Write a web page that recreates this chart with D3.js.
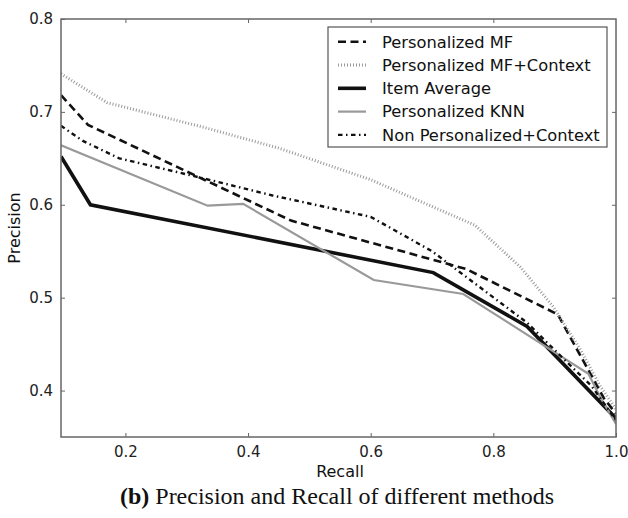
<!DOCTYPE html>
<html>
<head>
<meta charset="utf-8">
<script src="https://cdn.jsdelivr.net/npm/d3@7"></script>
<style>
  body { margin: 0; background: #fff; }
  svg text { font-family: "DejaVu Sans", sans-serif; }
</style>
</head>
<body>
<div id="chart"></div>
<script>
  // series values: [recall, precision]
  var personalizedMF = [[0.095, 0.718], [0.139, 0.686], [0.47, 0.583], [0.755, 0.531], [0.905, 0.482], [0.98, 0.392], [1.0, 0.375]];
  var personalizedMFContext = [[0.095, 0.741], [0.17, 0.710], [0.33, 0.683], [0.45, 0.661], [0.6, 0.627], [0.77, 0.578], [0.844, 0.533], [0.898, 0.490], [0.942, 0.444], [0.974, 0.405], [1.0, 0.38]];
  var itemAverage = [[0.095, 0.652], [0.143, 0.600], [0.702, 0.527], [0.855, 0.469], [1.0, 0.370]];
  var personalizedKNN = [[0.095, 0.664], [0.334, 0.599], [0.392, 0.601], [0.605, 0.519], [0.751, 0.504], [0.955, 0.418], [0.975, 0.392], [1.0, 0.364]];
  var nonPersonalizedContext = [[0.095, 0.685], [0.13, 0.669], [0.19, 0.650], [0.33, 0.628], [0.44, 0.610], [0.6, 0.587], [0.70, 0.550], [0.855, 0.473], [0.91, 0.437], [0.96, 0.405], [1.0, 0.368]];

  var seriesNames = ['Personalized MF', 'Personalized MF+Context', 'Item Average', 'Personalized KNN', 'Non Personalized+Context'];
  var xTicks = [0.2, 0.4, 0.6, 0.8, 1.0];
  var yTicks = [0.4, 0.5, 0.6, 0.7, 0.8];

  var series = [
    {name: seriesNames[0], values: personalizedMF, color: '#111', width: 2.6, dash: '8,4.5'},
    {name: seriesNames[1], values: personalizedMFContext, color: '#9a9a9a', width: 3, dash: '1,2'},
    {name: seriesNames[2], values: itemAverage, color: '#111', width: 3.6, dash: null},
    {name: seriesNames[3], values: personalizedKNN, color: '#999', width: 2.2, dash: null},
    {name: seriesNames[4], values: nonPersonalizedContext, color: '#111', width: 2.4, dash: '4.5,3.5,1.5,3.5'}
  ];

  var w = 628, h = 518;
  var margin = {top: 19, right: 12, bottom: 81, left: 61};
  var width = w - margin.left - margin.right;
  var height = h - margin.top - margin.bottom;

  var svg = d3.select('#chart')
    .append('svg')
    .attr('width', w)
    .attr('height', h);

  var x = d3.scaleLinear().domain([0.095, 1.0]).range([0, width]);
  var y = d3.scaleLinear().domain([0.35, 0.8]).range([height, 0]);

  var g = svg.append('g')
    .attr('transform', 'translate(' + margin.left + ',' + margin.top + ')');

  g.append('clipPath').attr('id', 'plotclip')
    .append('rect').attr('width', width).attr('height', height);

  var line = d3.line()
    .x(function(d) { return x(d[0]); })
    .y(function(d) { return y(d[1]); });

  g.append('g').attr('clip-path', 'url(#plotclip)')
    .selectAll('path')
    .data(series)
    .enter()
    .append('path')
    .attr('d', function(d) { return line(d.values); })
    .attr('fill', 'none')
    .attr('stroke', function(d) { return d.color; })
    .attr('stroke-width', function(d) { return d.width; })
    .attr('stroke-dasharray', function(d) { return d.dash; })
    .attr('stroke-linejoin', 'miter');

  // axes, ticks pointing inward on all four sides
  function styleAxis(sel) {
    sel.select('.domain').remove();
    sel.selectAll('.tick line').attr('stroke', '#666').attr('stroke-width', 1);
    sel.selectAll('.tick text').attr('fill', '#222').style('font-size', '15px');
  }

  g.append('g')
    .attr('transform', 'translate(0,' + height + ')')
    .call(d3.axisBottom(x).tickValues(xTicks).tickFormat(d3.format('.1f')).tickSizeInner(-4).tickSizeOuter(0).tickPadding(9))
    .call(styleAxis);
  g.append('g')
    .call(d3.axisTop(x).tickValues(xTicks.slice(0, 4)).tickFormat('').tickSizeInner(-4).tickSizeOuter(0))
    .call(styleAxis);
  g.append('g')
    .call(d3.axisLeft(y).tickValues(yTicks).tickFormat(d3.format('.1f')).tickSizeInner(-4).tickSizeOuter(0).tickPadding(8))
    .call(styleAxis);
  g.append('g')
    .attr('transform', 'translate(' + width + ',0)')
    .call(d3.axisRight(y).tickValues(yTicks.slice(0, 4)).tickFormat('').tickSizeInner(-4).tickSizeOuter(0))
    .call(styleAxis);

  g.append('rect')
    .attr('width', width)
    .attr('height', height)
    .attr('fill', 'none')
    .attr('stroke', '#666')
    .attr('stroke-width', 1.5);

  // axis titles
  svg.append('text')
    .attr('x', 340)
    .attr('y', 477)
    .attr('text-anchor', 'middle')
    .style('font-size', '16px')
    .attr('fill', '#111')
    .text('Recall');
  svg.append('text')
    .attr('transform', 'translate(20,' + (margin.top + height / 2) + ') rotate(-90)')
    .attr('text-anchor', 'middle')
    .style('font-size', '16px')
    .attr('fill', '#111')
    .text('Precision');

  // legend
  var legend = svg.append('g').attr('transform', 'translate(328,27)');
  legend.append('rect')
    .attr('width', 279)
    .attr('height', 120)
    .attr('fill', '#fff')
    .attr('stroke', '#555')
    .attr('stroke-width', 1.2);

  var items = legend.selectAll('g.item')
    .data(series)
    .enter()
    .append('g')
    .attr('class', 'item')
    .attr('transform', function(d, i) { return 'translate(0,' + (14.7 + i * 23.3) + ')'; });

  items.append('line')
    .attr('x1', 10).attr('x2', 38)
    .attr('stroke', function(d) { return d.color; })
    .attr('stroke-width', function(d) { return d.width; })
    .attr('stroke-dasharray', function(d) { return d.dash; });

  items.append('text')
    .attr('x', 54)
    .attr('dy', '0.36em')
    .style('font-size', '16.3px')
    .attr('fill', '#111')
    .text(function(d) { return d.name; });

  // caption
  var cap = svg.append('text')
    .attr('x', 337)
    .attr('y', 504)
    .attr('text-anchor', 'middle')
    .style('font-family', '"Liberation Serif", "Times New Roman", serif')
    .style('font-size', '24px')
    .attr('fill', '#111');
  cap.append('tspan').style('font-weight', 'bold').text('(b)');
  cap.append('tspan').text(' Precision and Recall of different methods');
</script>
</body>
</html>
